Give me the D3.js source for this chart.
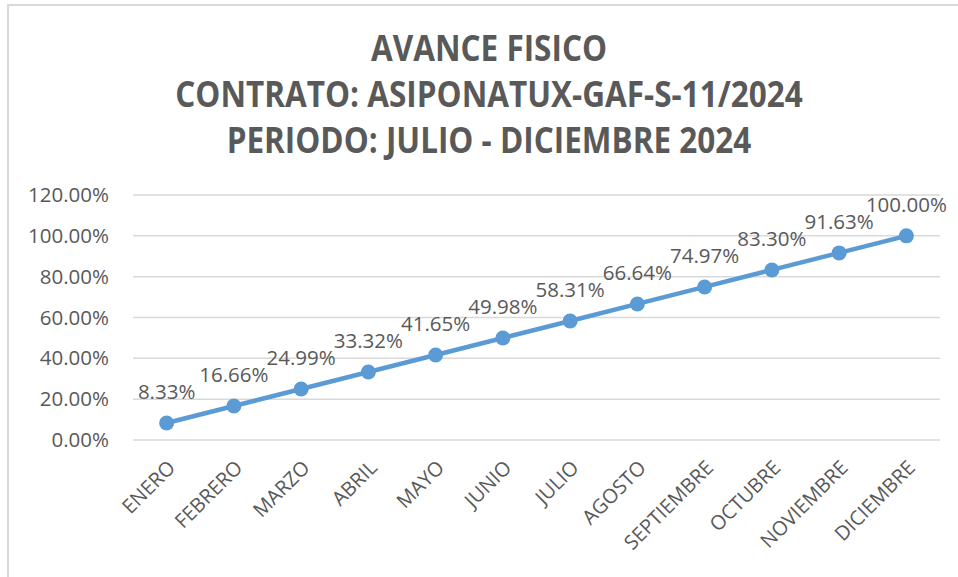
<!DOCTYPE html>
<html>
<head>
<meta charset="utf-8">
<script src="https://cdn.jsdelivr.net/npm/d3@7"></script>
<style>
  body { margin: 0; background: #fff; }
  svg { display: block; }
</style>
</head>
<body>
<div class="box"></div>
<script>
const months = ["ENERO", "FEBRERO", "MARZO", "ABRIL", "MAYO", "JUNIO", "JULIO",
  "AGOSTO", "SEPTIEMBRE", "OCTUBRE", "NOVIEMBRE", "DICIEMBRE"]
const avance = [8.33, 16.66, 24.99, 33.32, 41.65, 49.98, 58.31, 66.64, 74.97, 83.30, 91.63, 100.00]
const yTicks = [0, 20, 40, 60, 80, 100, 120]
const titleLines = ["AVANCE FISICO", "CONTRATO: ASIPONATUX-GAF-S-11/2024", "PERIODO: JULIO - DICIEMBRE 2024"]

const width = 958
const height = 577
const textColor = "#595959"
const lineColor = "#5B9BD5"
const gridColor = "#d9d9d9"
const fontAxis = "'Open Sans', sans-serif"

const margin = { top: 195, right: 18, bottom: 137, left: 133 }

const svg = d3.select(".box")
  .append("svg")
  .attr("width", width)
  .attr("height", height)

// chart frame
svg.append("rect")
  .attr("x", 8)
  .attr("y", 5)
  .attr("width", width)
  .attr("height", height)
  .attr("fill", "none")
  .attr("stroke", gridColor)
  .attr("stroke-width", 2)

// title
const title = svg.append("g")
  .attr("font-family", "'Open Sans', sans-serif")
  .attr("font-weight", "bold")
  .attr("font-size", 36)
  .attr("fill", textColor)
  .attr("text-anchor", "middle")

titleLines.forEach((t, i) => {
  const el = title.append("text")
    .attr("x", 489)
    .attr("y", 61 + i * 46)
    .text(t)
  const w = el.node().getComputedTextLength()
  el.attr("textLength", w * 0.875).attr("lengthAdjust", "spacingAndGlyphs")
})

const x = d3.scaleBand()
  .domain(months)
  .range([margin.left, width - margin.right])

const y = d3.scaleLinear()
  .domain([0, 120])
  .range([height - margin.bottom, margin.top])

// gridlines
svg.append("g")
  .selectAll("line")
  .data(yTicks)
  .join("line")
  .attr("x1", margin.left)
  .attr("x2", width - margin.right)
  .attr("y1", d => y(d))
  .attr("y2", d => y(d))
  .attr("stroke", gridColor)
  .attr("stroke-width", 1.5)

// y axis
const yAxis = svg.append("g")
  .attr("transform", `translate(${margin.left - 24}, 0)`)
  .call(d3.axisLeft(y).tickValues(yTicks).tickSize(0).tickPadding(0)
    .tickFormat(d => d.toFixed(2) + "%"))
yAxis.select(".domain").remove()
yAxis.selectAll("text")
  .attr("font-family", fontAxis)
  .attr("font-size", 20.5)
  .attr("fill", textColor)

// x axis
const xAxis = svg.append("g")
  .attr("transform", `translate(0, ${height - margin.bottom})`)
  .call(d3.axisBottom(x).tickSize(0).tickPadding(0))
xAxis.select(".domain").remove()
xAxis.selectAll("text")
  .attr("font-family", fontAxis)
  .attr("font-size", 20)
  .attr("fill", textColor)
  .attr("text-anchor", "end")
  .attr("dy", "0.35em")
  .attr("transform", "translate(5, 24) rotate(-45)")

const cx = d => x(d) + x.bandwidth() / 2

// line
svg.append("path")
  .datum(avance)
  .attr("fill", "none")
  .attr("stroke", lineColor)
  .attr("stroke-width", 4.5)
  .attr("stroke-linejoin", "round")
  .attr("d", d3.line().x((d, i) => cx(months[i])).y(d => y(d)))

// markers
svg.append("g")
  .selectAll("circle")
  .data(avance)
  .join("circle")
  .attr("cx", (d, i) => cx(months[i]))
  .attr("cy", d => y(d))
  .attr("r", 7.5)
  .attr("fill", lineColor)

// data labels
svg.append("g")
  .selectAll("text")
  .data(avance)
  .join("text")
  .attr("x", (d, i) => cx(months[i]))
  .attr("y", d => y(d) - 24)
  .attr("text-anchor", "middle")
  .attr("font-family", fontAxis)
  .attr("font-size", 20.5)
  .attr("fill", textColor)
  .text(d => d.toFixed(2) + "%")
</script>
</body>
</html>
